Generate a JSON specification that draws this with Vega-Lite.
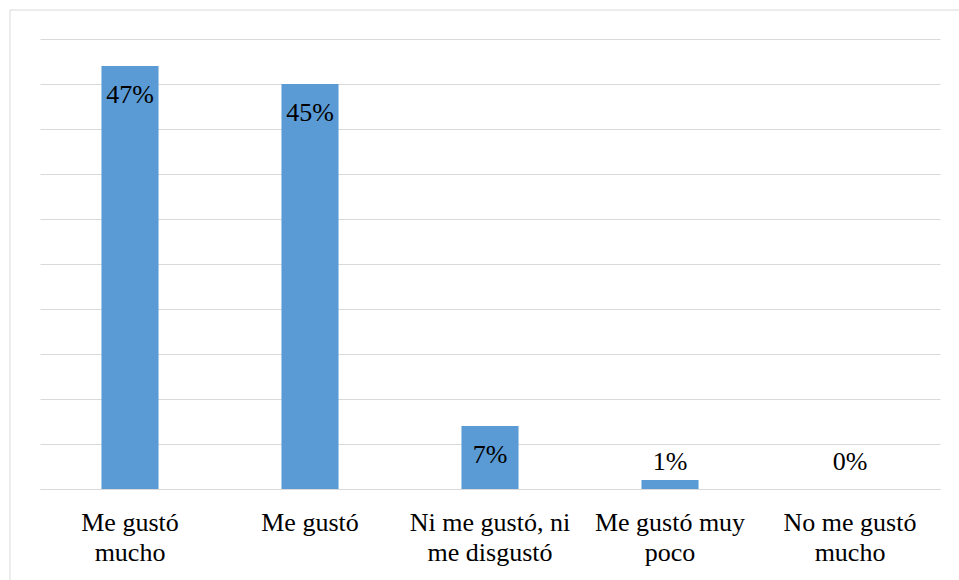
{
  "$schema": "https://vega.github.io/schema/vega-lite/v6.json",
  "width": 900,
  "height": 450,
  "autosize": {"type": "none"},
  "padding": {"left": 40, "top": 39, "right": 19, "bottom": 91},
  "background": "white",
  "config": {
    "view": {"stroke": null},
    "font": "Liberation Serif"
  },
  "data": {
    "values": [
      {"respuesta": "Me gustó mucho", "porcentaje": 0.47},
      {"respuesta": "Me gustó", "porcentaje": 0.45},
      {"respuesta": "Ni me gustó, ni me disgustó", "porcentaje": 0.07},
      {"respuesta": "Me gustó muy poco", "porcentaje": 0.01},
      {"respuesta": "No me gustó mucho", "porcentaje": 0.0}
    ]
  },
  "layer": [
    {
      "mark": {"type": "bar", "color": "#5b9bd5"},
      "encoding": {
        "x": {
          "field": "respuesta",
          "type": "nominal",
          "sort": null,
          "scale": {"paddingInner": 0.683, "paddingOuter": 0.3415},
          "axis": {
            "title": null,
            "labelAngle": 0,
            "ticks": false,
            "domainColor": "#d9d9d9",
            "domainWidth": 1,
            "labelFont": "Liberation Serif",
            "labelFontSize": 26,
            "labelColor": "#000000",
            "labelPadding": 20,
            "labelLineHeight": 30,
            "labelLimit": 300,
            "labelExpr": "datum.label == 'Me gustó mucho' ? ['Me gustó', 'mucho'] : datum.label == 'Ni me gustó, ni me disgustó' ? ['Ni me gustó, ni', 'me disgustó'] : datum.label == 'Me gustó muy poco' ? ['Me gustó muy', 'poco'] : datum.label == 'No me gustó mucho' ? ['No me gustó', 'mucho'] : datum.label"
          }
        },
        "y": {
          "field": "porcentaje",
          "type": "quantitative",
          "scale": {"domain": [0, 0.5], "nice": false, "zero": true},
          "axis": {
            "title": null,
            "labels": false,
            "ticks": false,
            "domain": false,
            "grid": true,
            "gridColor": "#d9d9d9",
            "gridWidth": 1,
            "values": [0, 0.05, 0.1, 0.15, 0.2, 0.25, 0.3, 0.35, 0.4, 0.45, 0.5]
          }
        }
      }
    },
    {
      "transform": [{"filter": "datum.porcentaje >= 0.05"}],
      "mark": {
        "type": "text",
        "baseline": "alphabetic",
        "align": "center",
        "dy": 37,
        "fontSize": 26,
        "font": "Liberation Serif",
        "color": "#000000"
      },
      "encoding": {
        "x": {"field": "respuesta", "type": "nominal", "sort": null},
        "y": {"field": "porcentaje", "type": "quantitative"},
        "text": {"field": "porcentaje", "type": "quantitative", "format": ".0%"}
      }
    },
    {
      "transform": [{"filter": "datum.porcentaje < 0.05"}],
      "mark": {
        "type": "text",
        "baseline": "alphabetic",
        "align": "center",
        "dy": -19,
        "fontSize": 26,
        "font": "Liberation Serif",
        "color": "#000000"
      },
      "encoding": {
        "x": {"field": "respuesta", "type": "nominal", "sort": null},
        "y": {"datum": 0},
        "text": {"field": "porcentaje", "type": "quantitative", "format": ".0%"}
      }
    },
    {
      "data": {"values": [{"borde": "izquierdo"}]},
      "mark": {"type": "rule", "color": "#d9d9d9", "strokeWidth": 1},
      "encoding": {
        "x": {"datum": "Me gustó mucho", "bandPosition": -1.603},
        "y": {"datum": 0.5322},
        "y2": {"datum": -0.102}
      }
    },
    {
      "data": {"values": [{"borde": "superior"}]},
      "mark": {"type": "rule", "color": "#d9d9d9", "strokeWidth": 1},
      "encoding": {
        "x": {"datum": "Me gustó mucho", "bandPosition": -1.603},
        "x2": {"datum": "No me gustó mucho", "bandPosition": 2.41},
        "y": {"datum": 0.5322}
      }
    }
  ]
}
